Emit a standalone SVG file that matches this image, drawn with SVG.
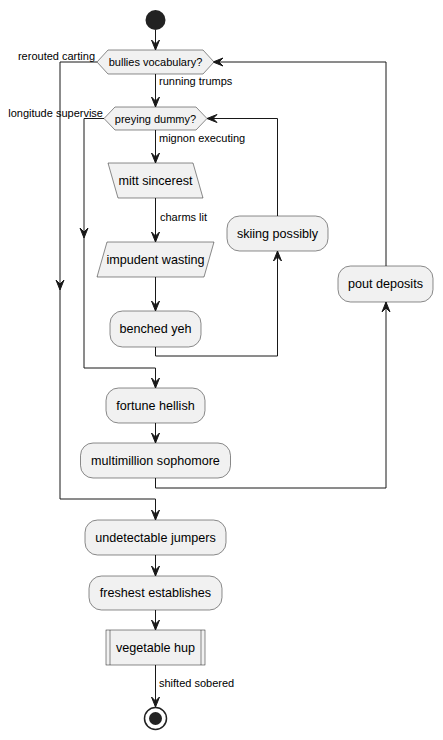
<svg xmlns="http://www.w3.org/2000/svg" width="443" height="740" viewBox="0 0 443 740">
  <style>
    .node { fill: #F1F1F1; stroke: #181818; stroke-width: 0.5; }
    .txt { font-family: "Liberation Sans", Arial, sans-serif; font-size: 12.6px; fill: #000; text-anchor: middle; }
    .lbl { font-family: "Liberation Sans", Arial, sans-serif; font-size: 11px; fill: #000; }
    .edge { fill: none; stroke: #181818; stroke-width: 1; }
    .head { fill: #181818; stroke: #181818; stroke-width: 1; }
  </style>
  <defs>
    <!-- arrowhead pointing down, tip at origin -->
    <polygon id="ah" points="0,0 -4,-10 0,-6 4,-10" class="head"/>
  </defs>
  <rect width="443" height="740" fill="#FFFFFF"/>

  <g id="connectors">
    <path class="edge" d="M155.5,30 V50"/>
    <use href="#ah" transform="translate(155.5,50)"/>
    <path class="edge" d="M155.5,74 V107"/>
    <use href="#ah" transform="translate(155.5,107)"/>
    <path class="edge" d="M155.5,130 V163"/>
    <use href="#ah" transform="translate(155.5,163)"/>
    <path class="edge" d="M155.5,198 V242"/>
    <use href="#ah" transform="translate(155.5,242)"/>
    <path class="edge" d="M155.5,277 V311"/>
    <use href="#ah" transform="translate(155.5,311)"/>
    <!-- inner loop back -->
    <path class="edge" d="M155.5,347 V356 H277.5 V251"/>
    <use href="#ah" transform="translate(277.5,251) rotate(180)"/>
    <path class="edge" d="M277.5,216 V118.5 H207"/>
    <use href="#ah" transform="translate(207,118.5) rotate(90)"/>
    <!-- inner loop exit -->
    <path class="edge" d="M104,118.5 H84 V368 H155.5 V388"/>
    <use href="#ah" transform="translate(84,238)"/>
    <use href="#ah" transform="translate(155.5,388)"/>
    <path class="edge" d="M155.5,423 V443"/>
    <use href="#ah" transform="translate(155.5,443)"/>
    <!-- outer loop back -->
    <path class="edge" d="M155.5,478 V488 H386 V302"/>
    <use href="#ah" transform="translate(386,302) rotate(180)"/>
    <path class="edge" d="M386,266 V62 H213"/>
    <use href="#ah" transform="translate(213,62) rotate(90)"/>
    <!-- outer loop exit -->
    <path class="edge" d="M97,62 H60 V499 H155.5 V520"/>
    <use href="#ah" transform="translate(60,290)"/>
    <use href="#ah" transform="translate(155.5,520)"/>
    <path class="edge" d="M155.5,555 V576"/>
    <use href="#ah" transform="translate(155.5,576)"/>
    <path class="edge" d="M155.5,610 V630"/>
    <use href="#ah" transform="translate(155.5,630)"/>
    <path class="edge" d="M155.5,665 V707"/>
    <use href="#ah" transform="translate(155.5,707)"/>

    <text class="lbl" x="95" y="60" text-anchor="end">rerouted carting</text>
    <text class="lbl" x="159" y="85">running trumps</text>
    <text class="lbl" x="103" y="117" text-anchor="end">longitude supervise</text>
    <text class="lbl" x="159" y="142">mignon executing</text>
    <text class="lbl" x="160" y="221">charms lit</text>
    <text class="lbl" x="159" y="687">shifted sobered</text>
  </g>

  <g id="start">
    <circle cx="155.5" cy="20" r="10" fill="#222222"/>
  </g>

  <g id="bullies-vocabulary">
    <polygon class="node" points="97,62 108,50 203,50 214,62 203,74 108,74"/>
    <text class="lbl" x="155.5" y="66" text-anchor="middle">bullies vocabulary?</text>
  </g>

  <g id="preying-dummy">
    <polygon class="node" points="104,118.5 115,107 196,107 207,118.5 196,130 115,130"/>
    <text class="lbl" x="155.5" y="122.5" text-anchor="middle">preying dummy?</text>
  </g>

  <g id="mitt-sincerest">
    <polygon class="node" points="108,163 193,163 203,198 118,198"/>
    <text class="txt" x="155.5" y="185">mitt sincerest</text>
  </g>

  <g id="impudent-wasting">
    <polygon class="node" points="107,242 214,242 204,277 97,277"/>
    <text class="txt" x="155.5" y="264">impudent wasting</text>
  </g>

  <g id="benched-yeh">
    <rect class="node" x="110" y="311" width="91" height="36" rx="12.5"/>
    <text class="txt" x="155.5" y="333">benched yeh</text>
  </g>

  <g id="skiing-possibly">
    <rect class="node" x="227" y="216" width="101" height="35" rx="12.5"/>
    <text class="txt" x="277.5" y="238">skiing possibly</text>
  </g>

  <g id="pout-deposits">
    <rect class="node" x="338" y="266" width="95" height="36" rx="12.5"/>
    <text class="txt" x="385.5" y="288">pout deposits</text>
  </g>

  <g id="fortune-hellish">
    <rect class="node" x="106" y="388" width="99" height="35" rx="12.5"/>
    <text class="txt" x="155.5" y="410">fortune hellish</text>
  </g>

  <g id="multimillion-sophomore">
    <rect class="node" x="80.5" y="443" width="150" height="35" rx="12.5"/>
    <text class="txt" x="155.5" y="465">multimillion sophomore</text>
  </g>

  <g id="undetectable-jumpers">
    <rect class="node" x="85" y="520" width="141" height="35" rx="12.5"/>
    <text class="txt" x="155.5" y="542">undetectable jumpers</text>
  </g>

  <g id="freshest-establishes">
    <rect class="node" x="89" y="576" width="133" height="34" rx="12.5"/>
    <text class="txt" x="155.5" y="597">freshest establishes</text>
  </g>

  <g id="vegetable-hup">
    <rect class="node" x="106" y="630" width="99" height="35"/>
    <line class="node" x1="110" y1="630" x2="110" y2="665"/>
    <line class="node" x1="201" y1="630" x2="201" y2="665"/>
    <text class="txt" x="155.5" y="652">vegetable hup</text>
  </g>

  <g id="end">
    <circle cx="155.5" cy="718.5" r="11" fill="none" stroke="#222222" stroke-width="1.5"/>
    <circle cx="155.5" cy="718.5" r="6.5" fill="#222222"/>
  </g>
</svg>
